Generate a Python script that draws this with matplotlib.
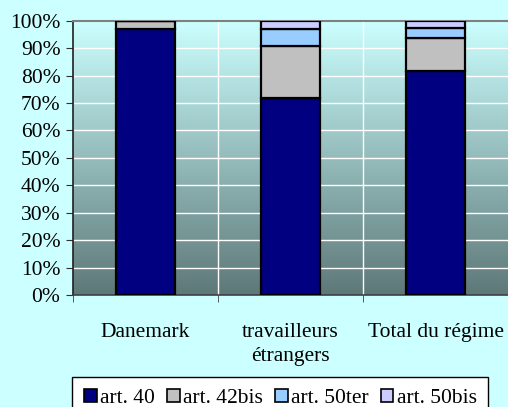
import matplotlib.pyplot as plt
import numpy as np
from matplotlib.colors import LinearSegmentedColormap
from matplotlib.patches import Patch

plt.rcParams['font.family'] = ['Liberation Serif', 'DejaVu Serif']

categories = ['Danemark', 'travailleurs\nétrangers', 'Total du régime']
series_names = ['art. 40', 'art. 42bis', 'art. 50ter', 'art. 50bis']
art40 = [96.8, 71.8, 81.6]
art42bis = [3.2, 19.0, 12.2]
art50ter = [0.0, 6.0, 3.4]
art50bis = [0.0, 3.2, 2.8]
series = [art40, art42bis, art50ter, art50bis]
colors = ['#000080', '#C0C0C0', '#99CCFF', '#CCCCFF']
yticks = list(range(0, 101, 10))

bg = '#CCFFFF'
fig = plt.figure(figsize=(5.08, 4.07), dpi=100, facecolor=bg)
ax = fig.add_axes([73 / 508, 112 / 407, 1 - 73 / 508, (295 - 20.7) / 407])

# gradient plot area background
cmap = LinearSegmentedColormap.from_list('bg', ['#5E7878', '#CCFFFF'])
grad = np.linspace(0, 1, 256).reshape(-1, 1)
ax.imshow(grad, extent=(-0.5, 2.5, 0, 100), origin='lower', aspect='auto',
          cmap=cmap, zorder=0)

x = np.arange(len(categories))
bottom = np.zeros(len(categories))
for vals, col, name in zip(series, colors, series_names):
    ax.bar(x, vals, width=0.41, bottom=bottom, color=col, edgecolor='black',
           linewidth=1.6, zorder=3, label=name)
    bottom += np.array(vals)

ax.set_xlim(-0.5, 2.5)
ax.set_ylim(0, 100)
ax.set_yticks(yticks)
ax.set_yticklabels([f'{v}%' for v in yticks], fontsize=15.5)
ax.set_xticks(x)
ax.set_xticklabels(categories, fontsize=15.5, linespacing=1.4)
ax.set_xticks([-0.5, 0.5, 1.5, 2.5], minor=True)
ax.tick_params(axis='x', which='major', length=0, pad=20)
ax.tick_params(axis='x', which='minor', length=5, color='#404040')
ax.tick_params(axis='y', length=5, color='#303030', pad=4)

for v in yticks[1:-1]:
    ax.axhline(v, color='white', linewidth=1, zorder=1)
for v in [0.5, 1.5]:
    ax.axvline(v, color='white', linewidth=1, zorder=1)

ax.spines['top'].set_color('#808080')
ax.spines['top'].set_linewidth(1.5)
ax.spines['left'].set_color('#202020')
ax.spines['left'].set_linewidth(1.2)
ax.spines['bottom'].set_color('#404040')
ax.spines['bottom'].set_linewidth(1.2)
ax.spines['right'].set_visible(False)

handles = [Patch(facecolor=c, edgecolor='black', linewidth=1.2) for c in colors]
leg = fig.legend(handles, series_names, loc='upper center', ncol=4,
                 bbox_to_anchor=(0.552, 0.074), fontsize=15.5, frameon=True,
                 fancybox=False, edgecolor='black', framealpha=1,
                 handlelength=0.6, handleheight=0.6, handletextpad=0.15,
                 columnspacing=0.55, borderpad=0.55, borderaxespad=0)
leg.get_frame().set_linewidth(1.0)

fig.savefig('out.png', dpi=100, facecolor=bg)
